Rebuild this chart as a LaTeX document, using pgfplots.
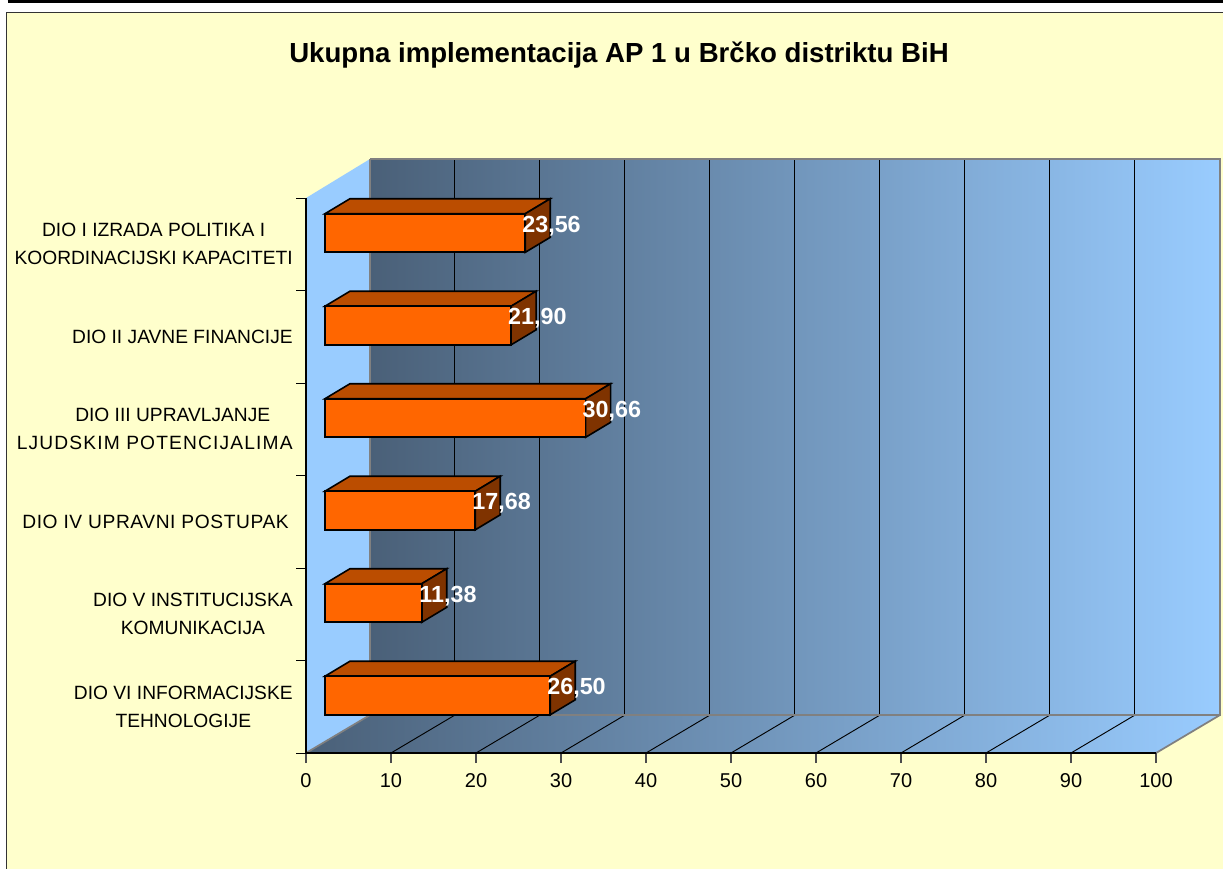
\documentclass[border=0pt]{standalone}
\usepackage{pgfplots}
\pgfplotsset{compat=1.18}
\usepackage{fontspec}
\setmainfont{Liberation Sans}
\definecolor{chartbg}{HTML}{FFFFCC}
\definecolor{walldark}{HTML}{4A6078}
\definecolor{wallmid}{HTML}{7AA0C8}
\definecolor{walllight}{HTML}{99CCFF}
\definecolor{edgegray}{HTML}{808080}
\definecolor{barfront}{HTML}{FF6600}
\definecolor{bartop}{HTML}{BB4D00}
\definecolor{barside}{HTML}{7F3300}
\begin{document}
\begin{tikzpicture}
% canvas in pixel coordinates: chart area, walls, floor, grid
\begin{axis}[
  at={(0pt,0pt)}, anchor=south west, scale only axis,
  width=917.25pt, height=651pt,
  xmin=0, xmax=1223, ymin=0, ymax=868, y dir=reverse,
  hide axis, clip=true]
\addplot[draw=none, fill=white] coordinates {(0,0)(1223,0)(1223,868)(0,868)} --cycle;
\addplot[draw=black!80, line width=1pt, fill=chartbg] coordinates {(6.5,12.5)(1240,12.5)(1240,890)(6.5,890)} --cycle;
\addplot[black, line width=2pt] coordinates {(7.5,1.2)(1223,1.2)};
\addplot[black, line width=1pt] coordinates {(903,0)(903,2)};
% side wall
\addplot[draw=none, fill=walllight] coordinates {(306,198)(370,159)(370,715)(306,753)} --cycle;
% back wall
\addplot[draw=none, left color=walldark, middle color=wallmid, right color=walllight] coordinates {(370,159)(1220,159)(1220,715)(370,715)} --cycle;
% floor
\addplot[draw=none, left color=walldark, middle color=wallmid, right color=walllight] coordinates {(306,753)(370,715)(1220,715)(1156,753)} --cycle;
% wall grid
\addplot[black, line width=.7pt] coordinates {(454.5,159)(454.5,715)};
\addplot[black, line width=.7pt] coordinates {(539.5,159)(539.5,715)};
\addplot[black, line width=.7pt] coordinates {(624.5,159)(624.5,715)};
\addplot[black, line width=.7pt] coordinates {(709.5,159)(709.5,715)};
\addplot[black, line width=.7pt] coordinates {(794.5,159)(794.5,715)};
\addplot[black, line width=.7pt] coordinates {(879.5,159)(879.5,715)};
\addplot[black, line width=.7pt] coordinates {(964.5,159)(964.5,715)};
\addplot[black, line width=.7pt] coordinates {(1049.5,159)(1049.5,715)};
\addplot[black, line width=.7pt] coordinates {(1134.5,159)(1134.5,715)};
% floor grid
\addplot[black, line width=.7pt] coordinates {(391,753)(455,715)};
\addplot[black, line width=.7pt] coordinates {(476,753)(540,715)};
\addplot[black, line width=.7pt] coordinates {(561,753)(625,715)};
\addplot[black, line width=.7pt] coordinates {(646,753)(710,715)};
\addplot[black, line width=.7pt] coordinates {(731,753)(795,715)};
\addplot[black, line width=.7pt] coordinates {(816,753)(880,715)};
\addplot[black, line width=.7pt] coordinates {(901,753)(965,715)};
\addplot[black, line width=.7pt] coordinates {(986,753)(1050,715)};
\addplot[black, line width=.7pt] coordinates {(1071,753)(1135,715)};
% wall edges
\addplot[edgegray, line width=1.3pt] coordinates {(370,159)(1220,159)(1220,715)(370,715)(370,159)};
\addplot[edgegray, line width=1.3pt] coordinates {(306,753)(370,715)};
\addplot[edgegray, line width=1.3pt] coordinates {(1156,753)(1220,715)};
\node[font=\fontsize{20.7}{24}\selectfont\bfseries, black] at (axis cs:619,55) {Ukupna implementacija AP 1 u Brčko distriktu BiH};
\end{axis}
% front plane: axis lines, ticks and labels
\begin{axis}[
  at={(229.5pt,86.25pt)}, anchor=south west, scale only axis,
  width=637.5pt, height=416.25pt,
  xmin=0, xmax=100, ymin=0, ymax=6,
  axis x line*=bottom, axis y line*=left,
  axis line style={black, line width=.8pt, -},
  tick align=outside,
  major tick length=7.5pt, minor tick length=7.5pt,
  xtick={0,10,...,100},
  ytick={0.5,1.5,2.5,3.5,4.5,5.5},
  minor ytick={0,1,2,3,4,5,6},
  major y tick style={draw=none},
  minor y tick style={black, line width=.7pt},
  major x tick style={black!70, line width=.8pt},
  /pgf/number format/assume math mode=true,
  xticklabel style={font=\fontsize{15}{18}\selectfont, yshift=-4.5pt},
  yticklabel style={font=\fontsize{14.4}{21}\selectfont, align=center, inner sep=0pt, outer sep=0pt, xshift=-2.5pt},
  yticklabels={{DIO VI INFORMACIJSKE\\TEHNOLOGIJE},
    {DIO V INSTITUCIJSKA\\KOMUNIKACIJA},
    {\addfontfeature{LetterSpace=3}DIO IV UPRAVNI POSTUPAK\hspace*{3pt}},
    {\hspace*{27pt}DIO III UPRAVLJANJE\\\addfontfeature{LetterSpace=6}LJUDSKIM POTENCIJALIMA},
    {DIO II JAVNE FINANCIJE},
    {DIO I IZRADA POLITIKA I\\KOORDINACIJSKI KAPACITETI}},
]
\addplot[draw=none] coordinates {(0,0)(100,6)};
\end{axis}
% bars: x in data units, y in category units
\begin{axis}[
  at={(0pt,0pt)}, anchor=south west, scale only axis,
  width=917.25pt, height=651pt,
  xmin=-38.235, xmax=105.647, ymin=-2.5189, ymax=6.8649, y dir=reverse,
  axis lines=none, clip=false, no markers,
  point meta=x,
]
% top faces
\addplot[draw=black, line width=1.2pt, fill=bartop] coordinates {(0,-.2086)(2.94,-.3708)(26.50,-.3708)(23.56,-.2086)} --cycle;
\addplot[draw=black, line width=1.2pt, fill=bartop] coordinates {(0,.7914)(2.94,.6292)(24.84,.6292)(21.90,.7914)} --cycle;
\addplot[draw=black, line width=1.2pt, fill=bartop] coordinates {(0,1.7914)(2.94,1.6292)(33.60,1.6292)(30.66,1.7914)} --cycle;
\addplot[draw=black, line width=1.2pt, fill=bartop] coordinates {(0,2.7914)(2.94,2.6292)(20.62,2.6292)(17.68,2.7914)} --cycle;
\addplot[draw=black, line width=1.2pt, fill=bartop] coordinates {(0,3.7914)(2.94,3.6292)(14.32,3.6292)(11.38,3.7914)} --cycle;
\addplot[draw=black, line width=1.2pt, fill=bartop] coordinates {(0,4.7914)(2.94,4.6292)(29.44,4.6292)(26.50,4.7914)} --cycle;
% side faces
\addplot[draw=black, line width=1.2pt, fill=barside] coordinates {(23.56,-.2086)(26.50,-.3708)(26.50,.0465)(23.56,.2086)} --cycle;
\addplot[draw=black, line width=1.2pt, fill=barside] coordinates {(21.90,.7914)(24.84,.6292)(24.84,1.0465)(21.90,1.2086)} --cycle;
\addplot[draw=black, line width=1.2pt, fill=barside] coordinates {(30.66,1.7914)(33.60,1.6292)(33.60,2.0465)(30.66,2.2086)} --cycle;
\addplot[draw=black, line width=1.2pt, fill=barside] coordinates {(17.68,2.7914)(20.62,2.6292)(20.62,3.0465)(17.68,3.2086)} --cycle;
\addplot[draw=black, line width=1.2pt, fill=barside] coordinates {(11.38,3.7914)(14.32,3.6292)(14.32,4.0465)(11.38,4.2086)} --cycle;
\addplot[draw=black, line width=1.2pt, fill=barside] coordinates {(26.50,4.7914)(29.44,4.6292)(29.44,5.0465)(26.50,5.2086)} --cycle;
% front faces with values
\addplot[xbar, bar width=28.9pt, draw=black, line width=1.2pt, fill=barfront,
  nodes near coords={\pgfmathprintnumber[fixed,fixed zerofill,precision=2,use comma,assume math mode=true]{\pgfplotspointmeta}},
  every node near coord/.append style={anchor=center, xshift=19.7pt, yshift=5.5pt, text=white, inner sep=0pt,
    font=\fontsize{17.5}{20}\selectfont\bfseries}]
  coordinates {(23.56,0)(21.90,1)(30.66,2)(17.68,3)(11.38,4)(26.50,5)};
\end{axis}
\end{tikzpicture}
\end{document}
